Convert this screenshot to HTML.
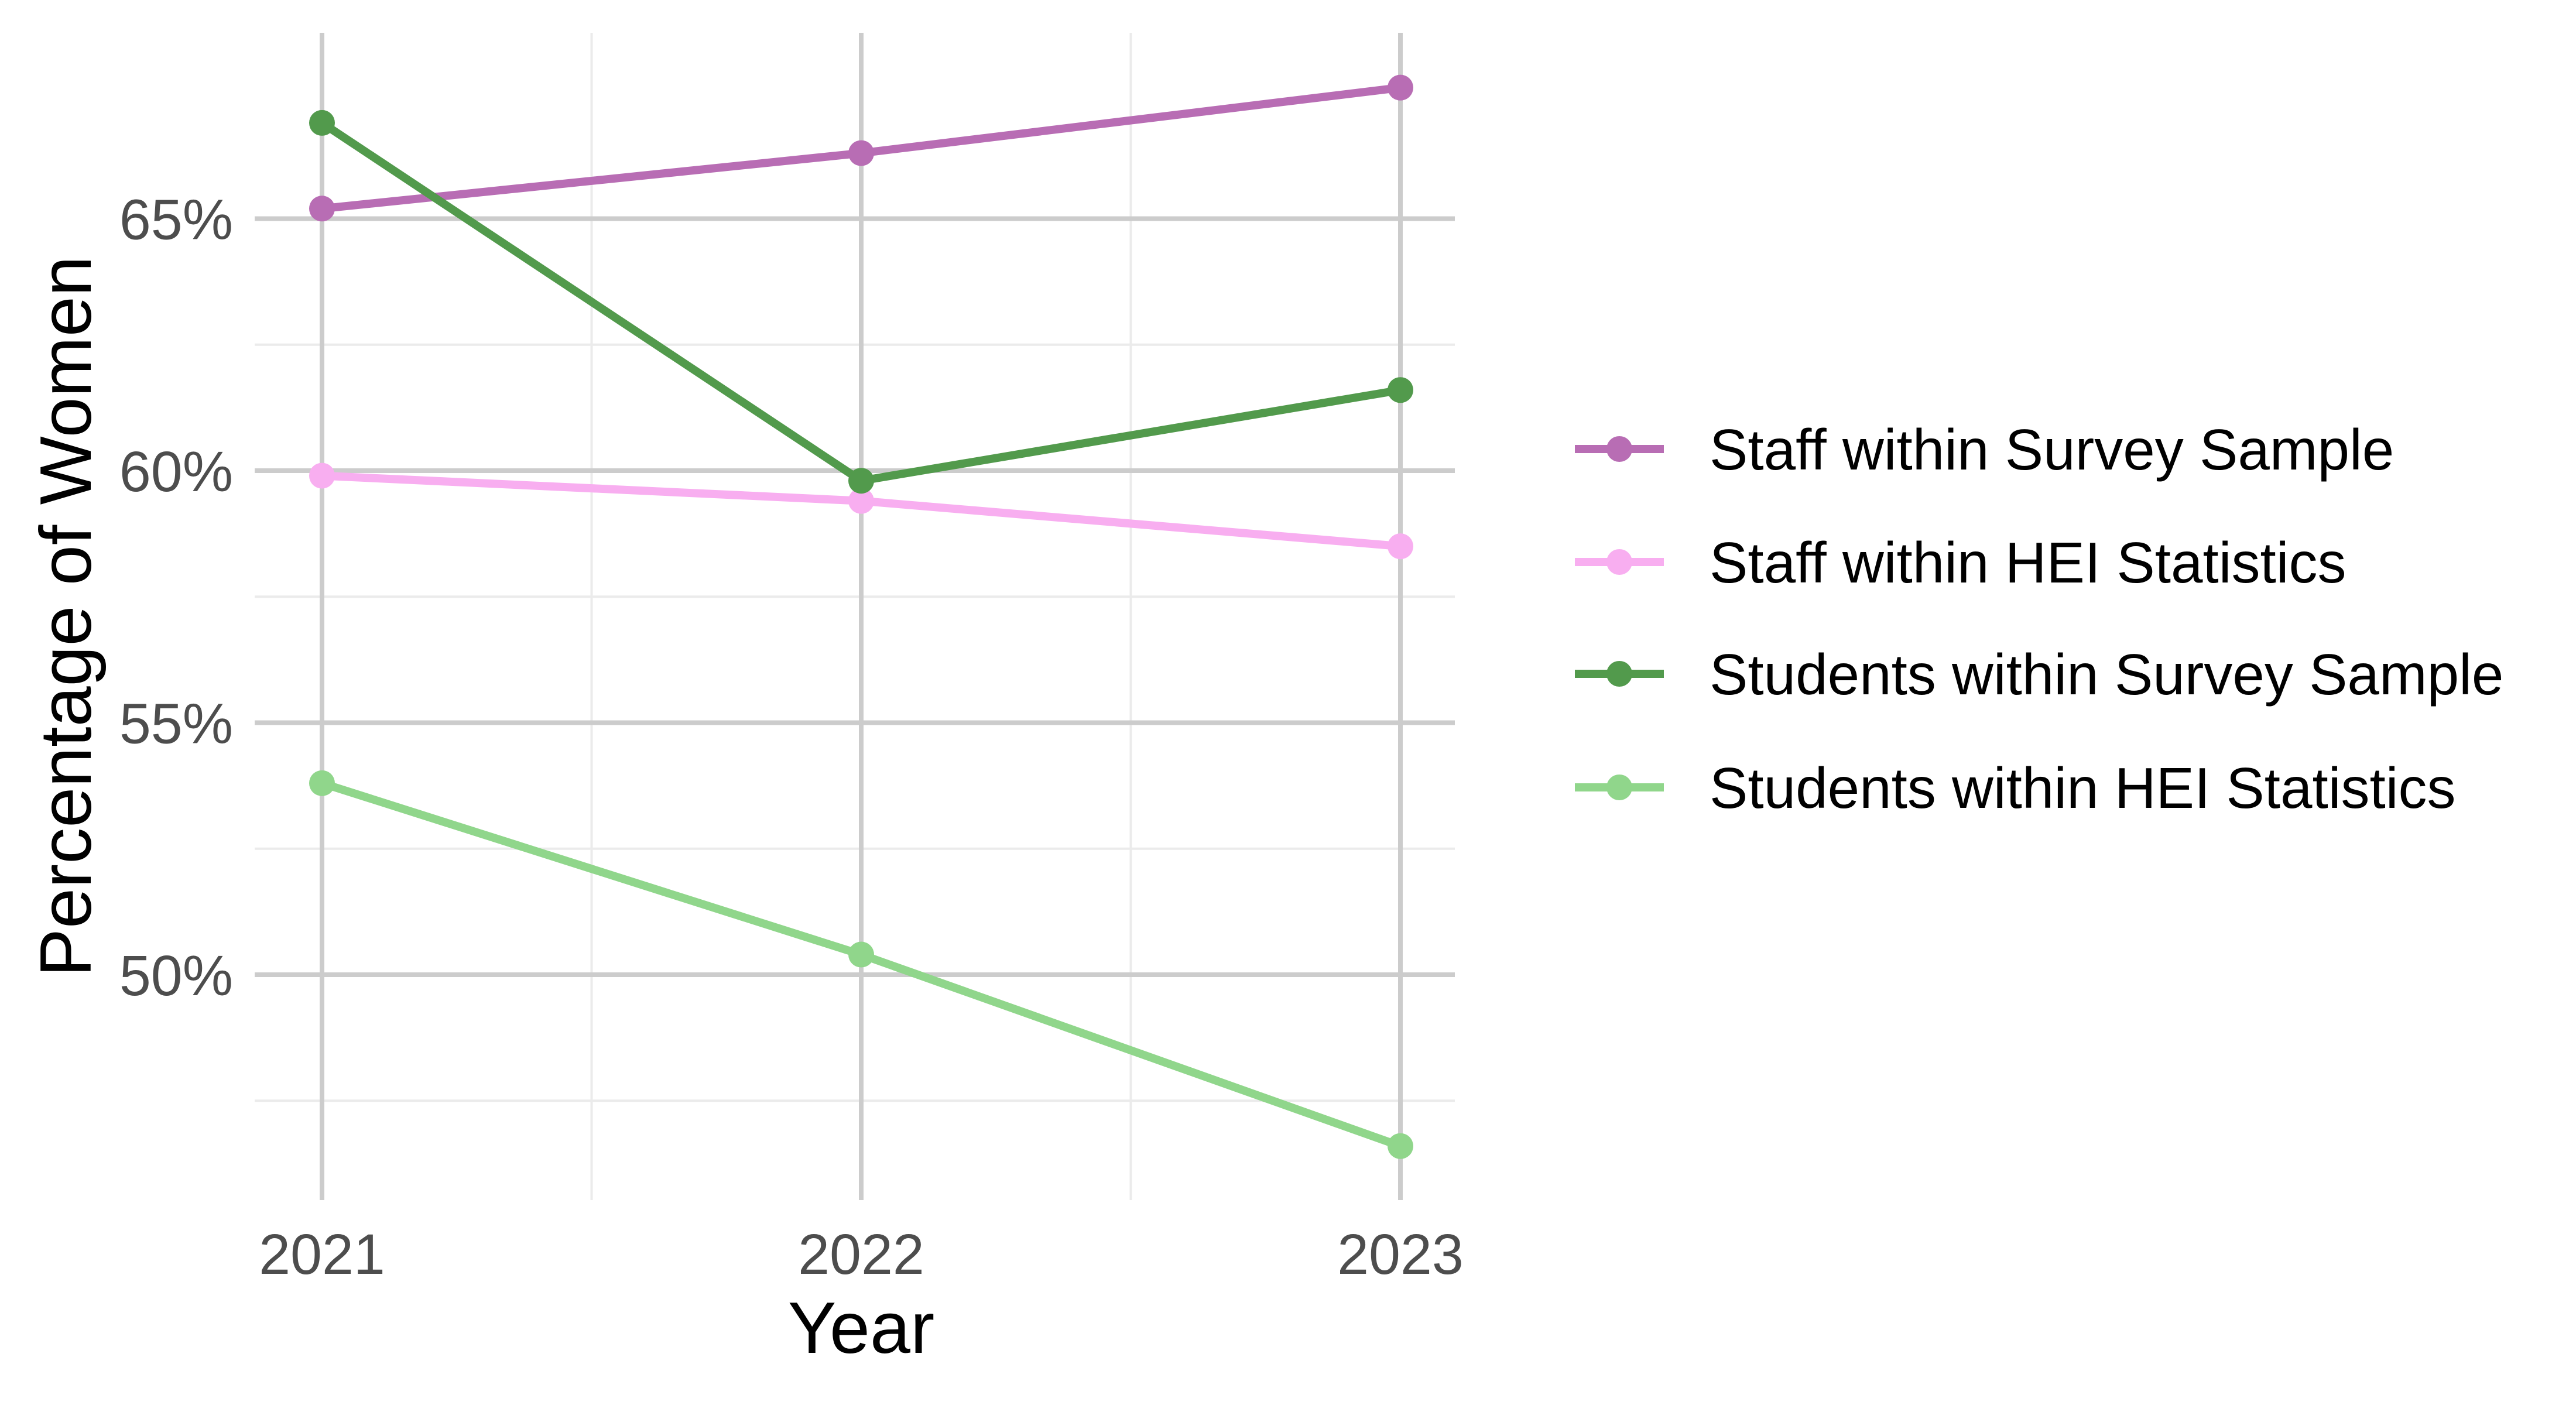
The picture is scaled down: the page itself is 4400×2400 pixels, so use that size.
<!DOCTYPE html>
<html><head><meta charset="utf-8"><style>
html,body{margin:0;padding:0;background:#fff;}
svg{display:block;font-family:"Liberation Sans",Arial,sans-serif;}
</style></head><body>
<svg id="chart" width="4400" height="2400" viewBox="0 0 4400 2400" xmlns="http://www.w3.org/2000/svg">
<g id="grid"></g>
<g id="series"></g>
<g id="axes"></g>
<g id="legend"></g>
</svg>
<script>
const years = [2021, 2022, 2023];
const staffSurvey = [65.2, 66.3, 67.6];
const staffHEI = [59.9, 59.4, 58.5];
const studentsSurvey = [66.9, 59.8, 61.6];
const studentsHEI = [53.8, 50.4, 46.6];
const yTicks = [50, 55, 60, 65];
const yTickLabels = ["50%", "55%", "60%", "65%"];
const yMinor = [47.5, 52.5, 57.5, 62.5];
const seriesNames = ["Staff within Survey Sample","Staff within HEI Statistics","Students within Survey Sample","Students within HEI Statistics"];

const NS = "http://www.w3.org/2000/svg";
const colors = ["#b86db4","#f8aef0","#529a4c","#90d68b"];
const panel = {x0: 435, x1: 2485, y0: 56, y1: 2050};
function xs(v){ return 550 + (v - 2021) * 921; }
function ys(v){ return 373.5 - (v - 65) * 86.1; }
function mk(tag, attrs, parent){
  const e = document.createElementNS(NS, tag);
  for (const k in attrs) e.setAttribute(k, attrs[k]);
  parent.appendChild(e);
  return e;
}
const grid = document.getElementById('grid');
yMinor.forEach(v => {
  const l = mk('line', {x1: panel.x0, x2: panel.x1, y1: ys(v), y2: ys(v), stroke: '#ebebeb', 'stroke-width': 4}, grid);
  
  
});
[2021.5, 2022.5].forEach(v => {
  const l = mk('line', {x1: xs(v), x2: xs(v), y1: panel.y0, y2: panel.y1, stroke: '#ebebeb', 'stroke-width': 4}, grid);
  
  
});
yTicks.forEach(v => {
  const l = mk('line', {x1: panel.x0, x2: panel.x1, y1: ys(v), y2: ys(v), stroke: '#cccccc', 'stroke-width': 8}, grid);
  
  
});
years.forEach(v => {
  const l = mk('line', {x1: xs(v), x2: xs(v), y1: panel.y0, y2: panel.y1, stroke: '#cccccc', 'stroke-width': 8}, grid);
  
  
});
const ser = document.getElementById('series');
[staffSurvey, staffHEI, studentsSurvey, studentsHEI].forEach((vals, i) => {
  const g = mk('g', {}, ser);
  
  
  const pts = vals.map((v, j) => xs(years[j]) + ',' + ys(v)).join(' ');
  const pl = mk('polyline', {points: pts, fill: 'none', stroke: colors[i], 'stroke-width': 14, 'stroke-linejoin': 'round'}, g);
  
  
  vals.forEach((v, j) => {
    const c = mk('circle', {cx: xs(years[j]), cy: ys(v), r: 22, fill: colors[i]}, g);
    
    
  });
});
const ax = document.getElementById('axes');
yTicks.forEach((v, i) => {
  const t = mk('text', {x: 398, y: ys(v) + 35, 'text-anchor': 'end', 'font-size': 97, fill: '#4d4d4d'}, ax);
  t.textContent = yTickLabels[i];
  
  
});
years.forEach(v => {
  const t = mk('text', {x: xs(v), y: 2176, 'text-anchor': 'middle', 'font-size': 97, fill: '#4d4d4d'}, ax);
  t.textContent = String(v);
  
  
});
const xt = mk('text', {x: 1471, y: 2311, 'text-anchor': 'middle', 'font-size': 124, fill: '#000'}, ax);
xt.textContent = 'Year';


const yt = mk('text', {x: 0, y: 0, 'text-anchor': 'middle', 'font-size': 124, fill: '#000', transform: 'translate(155,1053) rotate(-90)'}, ax);
yt.textContent = 'Percentage of Women';


const leg = document.getElementById('legend');
const rowY = [767, 960, 1151, 1345];
seriesNames.forEach((n, i) => {
  const g = mk('g', {}, leg);
  
  
  mk('line', {x1: 2690, x2: 2842, y1: rowY[i], y2: rowY[i], stroke: colors[i], 'stroke-width': 14}, g);
  mk('circle', {cx: 2766, cy: rowY[i], r: 22, fill: colors[i]}, g);
  const t = mk('text', {x: 2920, y: rowY[i] + 35, 'font-size': 98, fill: '#000'}, g);
  t.textContent = n;
  
  
});
</script>
</body></html>
